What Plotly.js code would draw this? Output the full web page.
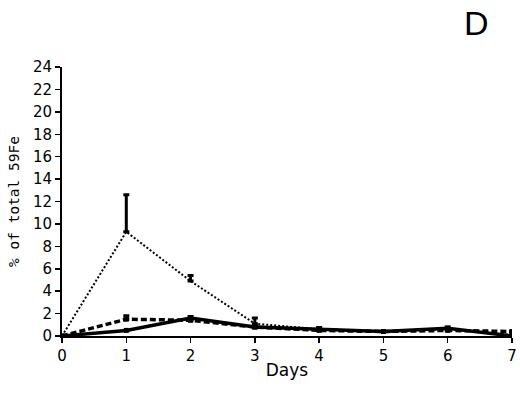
<!DOCTYPE html>
<html><head><meta charset="utf-8">
<script src="https://cdn.plot.ly/plotly-3.0.1.min.js"></script>
<style>body{margin:0;background:#fff}#chart{width:520px;height:406px}</style>
</head><body><div id="chart"></div>
<script>
const days = [0, 1, 2, 3, 4, 5, 6, 7];
const dottedVals = [0, 9.3, 4.9, 1.1, 0.6, 0.4, 0.6, 0.1];
const dottedErr  = [0, 3.3, 0.5, 0.5, 0, 0, 0, 0];
const dashedVals = [0, 1.5, 1.4, 0.8, 0.5, 0.4, 0.5, 0.4];
const dashedErr  = [0, 0.3, 0, 0, 0, 0, 0, 0];
const solidVals  = [0, 0.5, 1.6, 0.8, 0.6, 0.4, 0.7, 0.0];
const solidErr   = [0, 0, 0.15, 0, 0.15, 0, 0.1, 0];
const yTicks = [0,2,4,6,8,10,12,14,16,18,20,22,24];
const xTicks = [0,1,2,3,4,5,6,7];

const zeros = days.map(() => 0);
function errY(arr){ return {type:'data', symmetric:false, array:arr, arrayminus:zeros, color:'#000', thickness:3, width:3}; }

const traces = [
  {x:days, y:dottedVals, mode:'lines', line:{color:'#000', width:2, dash:'2px,2px'}, error_y:errY(dottedErr), showlegend:false},
  {x:days, y:dashedVals, mode:'lines+markers', line:{color:'#000', width:3.5, dash:'6px,3px'}, marker:{symbol:'square', size:5, color:'#000'}, error_y:errY(dashedErr), showlegend:false},
  {x:days, y:solidVals, mode:'lines+markers', line:{color:'#000', width:3.5}, marker:{symbol:'square', size:5, color:'#000'}, error_y:errY(solidErr), showlegend:false}
];

const fnt = {family:'DejaVu Sans, sans-serif', size:15, color:'#000'};
const layout = {
  width:520, height:406,
  margin:{l:62, r:8, t:67, b:70},
  paper_bgcolor:'#fff', plot_bgcolor:'#fff',
  font:fnt,
  xaxis:{range:[0,7], tickvals:xTicks, ticktext:xTicks.map(String), ticks:'outside', ticklen:5, tickwidth:1.5, tickcolor:'#000',
    showline:true, linecolor:'#000', linewidth:2, showgrid:false, zeroline:false, tickfont:{size:15},
    title:{text:'Days', font:{family:'DejaVu Sans, sans-serif', size:17, color:'#000'}, standoff:0}},
  yaxis:{range:[0,24], tickvals:yTicks, ticktext:yTicks.map(String), ticks:'outside', ticklen:5, tickwidth:1.5, tickcolor:'#000',
    showline:true, linecolor:'#000', linewidth:2, showgrid:false, zeroline:false, tickfont:{size:15},
    title:{text:'% of total 59Fe', font:{family:'DejaVu Sans Mono, monospace', size:14.5, color:'#000'}, standoff:10}},
  annotations:[{text:'D', xref:'paper', yref:'paper', x:(476-62)/450, y:1.0, yshift:44, xanchor:'center', yanchor:'middle', showarrow:false,
    font:{family:'Liberation Sans, sans-serif', size:34, color:'#000'}}]
};
Plotly.newPlot('chart', traces, layout, {displayModeBar:false, staticPlot:true});
</script></body></html>
